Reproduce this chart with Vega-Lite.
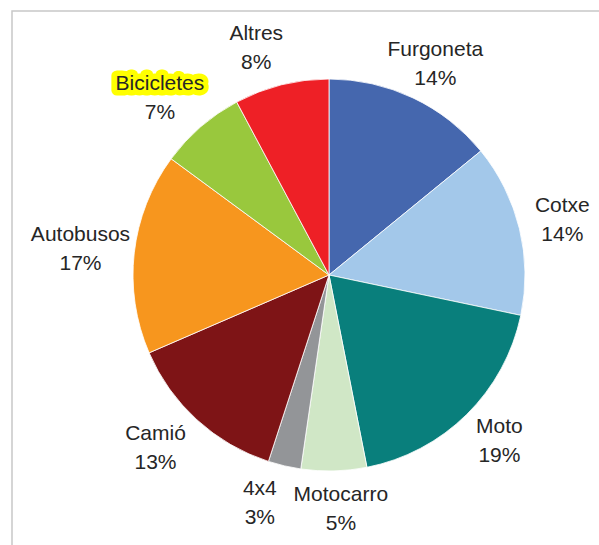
{
  "$schema": "https://vega.github.io/schema/vega-lite/v6.json",
  "width": 634,
  "height": 600,
  "padding": {"left": 11, "top": 10, "right": 0, "bottom": 0},
  "background": "white",
  "config": {
    "view": {"stroke": null},
    "text": {"font": "Liberation Sans", "fontSize": 21, "color": "#262626"}
  },
  "layer": [
    {
      "data": {"values": [{"frame": 1}]},
      "mark": {"type": "rect", "fill": null, "stroke": "#c8c8c8", "strokeWidth": 1.5},
      "encoding": {}
    },
    {
      "data": {
        "values": [
          {"idx": 1, "cat": "Furgoneta", "value": 14.1, "pct": "14%"},
          {"idx": 2, "cat": "Cotxe", "value": 14.2, "pct": "14%"},
          {"idx": 3, "cat": "Moto", "value": 18.6, "pct": "19%"},
          {"idx": 4, "cat": "Motocarro", "value": 5.4, "pct": "5%"},
          {"idx": 5, "cat": "4x4", "value": 2.7, "pct": "3%"},
          {"idx": 6, "cat": "Camió", "value": 13.5, "pct": "13%"},
          {"idx": 7, "cat": "Autobusos", "value": 16.6, "pct": "17%"},
          {"idx": 8, "cat": "Bicicletes", "value": 7.1, "pct": "7%"},
          {"idx": 9, "cat": "Altres", "value": 7.8, "pct": "8%"}
        ]
      },
      "encoding": {
        "theta": {"field": "value", "type": "quantitative", "stack": true},
        "order": {"field": "idx", "type": "quantitative"}
      },
      "layer": [
        {
          "mark": {"type": "arc", "radius": 196, "stroke": "white", "strokeWidth": 0.8, "yOffset": -36},
          "encoding": {
            "color": {
              "field": "cat",
              "type": "nominal",
              "scale": {
                "domain": ["Furgoneta", "Cotxe", "Moto", "Motocarro", "4x4", "Camió", "Autobusos", "Bicicletes", "Altres"],
                "range": ["#4567AE", "#A3C8EA", "#097F7C", "#D0E7C6", "#939598", "#7E1416", "#F7961E", "#99C83D", "#EE2026"]
              },
              "legend": null
            }
          }
        },
        {
          "mark": {"type": "text", "radius": 234, "dy": -14, "dx": -16, "yOffset": -36, "baseline": "middle", "fill": "#FFFF00", "stroke": "#FFFF00", "strokeWidth": 11, "strokeJoin": "round"},
          "encoding": {
            "text": {"condition": {"test": "datum.cat == 'Bicicletes'", "field": "cat"}, "value": ""}
          }
        },
        {
          "mark": {"type": "text", "radius": 234, "dy": -14, "dx": 6, "yOffset": -36, "baseline": "middle", "fill": "#262626"},
          "encoding": {"text": {"condition": {"test": "datum.idx <= 4", "field": "cat"}, "value": ""}}
        },
        {
          "mark": {"type": "text", "radius": 234, "dy": 15, "dx": 6, "yOffset": -36, "baseline": "middle", "fill": "#262626"},
          "encoding": {"text": {"condition": {"test": "datum.idx <= 4", "field": "pct"}, "value": ""}}
        },
        {
          "mark": {"type": "text", "radius": 234, "dy": -14, "dx": -16, "yOffset": -36, "baseline": "middle", "fill": "#262626"},
          "encoding": {"text": {"condition": {"test": "datum.idx > 4", "field": "cat"}, "value": ""}}
        },
        {
          "mark": {"type": "text", "radius": 234, "dy": 15, "dx": -16, "yOffset": -36, "baseline": "middle", "fill": "#262626"},
          "encoding": {"text": {"condition": {"test": "datum.idx > 4", "field": "pct"}, "value": ""}}
        }
      ]
    }
  ]
}
